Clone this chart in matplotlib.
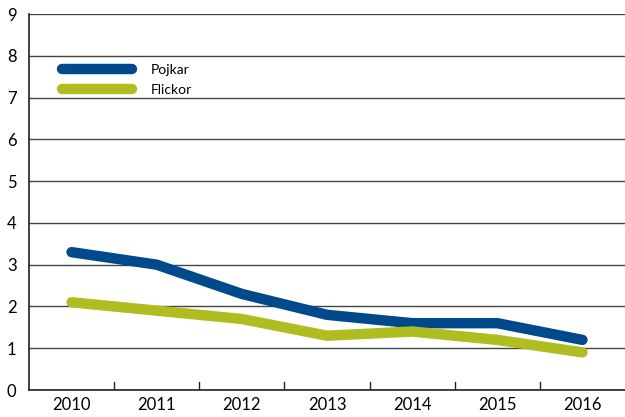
import matplotlib
matplotlib.use("Agg")
import matplotlib.pyplot as plt

years = ["2010", "2011", "2012", "2013", "2014", "2015", "2016"]
pojkar = [3.3, 3.0, 2.3, 1.8, 1.6, 1.6, 1.2]
flickor = [2.1, 1.9, 1.7, 1.3, 1.4, 1.2, 0.9]

plt.rcParams['font.family'] = ['Lato', 'DejaVu Sans']

fig = plt.figure(figsize=(6.25, 4.17), dpi=100)
ax = fig.add_axes([0.0464, 0.0647, 0.9536, 0.9017])

x = range(len(years))
ax.plot(x, pojkar, color='#004a8c', lw=7.5, solid_capstyle='round',
        solid_joinstyle='round', label='Pojkar', zorder=3)
ax.plot(x, flickor, color='#afbd20', lw=7.5, solid_capstyle='round',
        solid_joinstyle='round', label='Flickor', zorder=3)

ax.set_xlim(-0.5, len(years) - 0.5)
ax.set_ylim(0, 9)
ax.set_yticks(range(0, 10))
ax.yaxis.grid(True, color='#444444', lw=1)
ax.set_axisbelow(True)

# category labels centered, tick marks between categories
ax.set_xticks(list(x))
ax.set_xticklabels(years, fontsize=12)
ax.tick_params(axis='x', length=0, pad=5)
for i in range(1, len(years)):
    ax.plot([i - 0.5, i - 0.5], [0, 0.2], color='#222222', lw=1, zorder=2)
ax.tick_params(axis='y', length=0, labelsize=12, pad=9)

for s in ['top', 'right']:
    ax.spines[s].set_visible(False)
ax.spines['left'].set_color('#222222')
ax.spines['bottom'].set_color('#222222')
ax.spines['left'].set_linewidth(1.2)
ax.spines['bottom'].set_linewidth(1.2)

ax.legend(loc='upper left', bbox_to_anchor=(0.035, 0.9), frameon=False,
          fontsize=10, handlelength=5.0, labelspacing=0.55, handletextpad=1.4)

fig.savefig('out.png', dpi=100)
